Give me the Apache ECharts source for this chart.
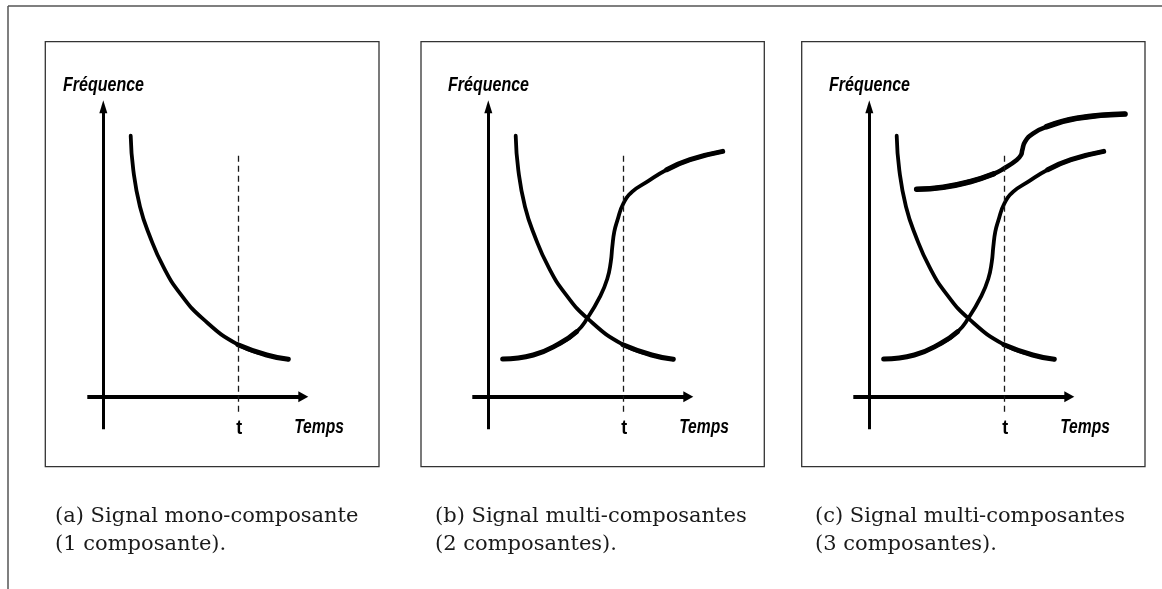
<!DOCTYPE html>
<html>
<head>
<meta charset="utf-8">
<script src="https://cdn.jsdelivr.net/npm/echarts@6/dist/echarts.min.js"></script>
<style>
html,body{margin:0;padding:0;background:#fff;}
#chart{width:1162px;height:589px;}
</style>
</head>
<body>
<div id="chart"></div>
<script>
// ---- data (schematic units: time along x, frequency along y) ----
const captionLine1 = ['(a) Signal mono-composante', '(b) Signal multi-composantes', '(c) Signal multi-composantes'];
const captionLine2 = ['(1 composante).', '(2 composantes).', '(3 composantes).'];
const yAxisLabel = 'Fréquence';
const xAxisLabel = 'Temps';
const instantLabel = 't';
const instantT = 13.47;

// decreasing component (all panels)
const compDecreasing = [[2.74,26.1],[3.0,22.67],[3.67,19.0],[4.67,16.0],[6.0,13.0],[7.67,10.34],[10.0,7.75],[13.47,5.2],[16.34,4.17],[18.5,3.74]];
// rising component (panels b and c)
const compRising = [[1.44,3.77],[4.5,4.17],[7.17,5.34],[8.84,6.5],[9.9,7.84],[11.17,10.0],[11.9,11.8],[12.25,13.5],[12.4,15.0],[12.6,16.5],[12.9,17.6],[13.5,19.3],[14.4,20.5],[15.74,21.4],[17.84,22.7],[20.17,23.7],[23.44,24.53]];
// upper component (panel c)
const compUpper = [[4.74,20.74],[7.4,20.94],[10.07,21.5],[12.4,22.27],[13.5,22.84],[14.74,23.67],[15.17,24.17],[15.3,24.67],[15.57,25.5],[16.4,26.34],[17.74,27.0],[20.74,27.84],[25.57,28.27]];

// axis extents (arrow axes)
const xAxisFrom = -1.6, xAxisTo = 20.0;
const yAxisFrom = -3.26, yAxisTo = 29.0;
const dashedFrom = -1.5, dashedTo = 24.5;

// label anchor points (data units)
const labelT = [instantT + 0.12, -3.13];
const labelTemps = [21.57, -3.07];
const labelFreq = [0.02, 31.17];

const panelComponents = [
  [compDecreasing],
  [compDecreasing, compRising],
  [compDecreasing, compRising, compUpper]
];
// heavier stroke on the flattest stretches: [fromIndex, toIndex, width]
const emphasis = {
  dec: [[7, 9, 5.0]],
  ris: [[0, 3, 5.0], [14, 16, 5.0]],
  upp: [[0, 3, 5.6], [10, 12, 5.6]]
};
const baseWidth = { dec: 3.8, ris: 3.8, upp: 4.6 };
const compKeys = ['dec', 'ris', 'upp'];

// ---- layout ----
const origins = [[103.3, 396.7], [488.3, 396.7], [869.3, 396.7]];
const boxes = [[45.3, 41.7, 333.7, 425], [421, 41.7, 343.3, 425], [801.7, 41.7, 343.3, 425]];
const captionX = [55, 435, 815];

const grids = [], xAxes = [], yAxes = [], series = [], graphics = [];
const hiddenAxis = { show: true, axisLine: { show: false }, axisTick: { show: false }, axisLabel: { show: false }, splitLine: { show: false } };

origins.forEach((o, i) => {
  grids.push({ left: o[0] - 16, top: o[1] - 295, width: 276, height: 327.6 });
  xAxes.push(Object.assign({ type: 'value', gridIndex: i, min: -1.6, max: 26 }, hiddenAxis));
  yAxes.push(Object.assign({ type: 'value', gridIndex: i, min: -3.26, max: 29.5 }, hiddenAxis));

  // arrow axes + dashed instant line
  series.push({
    type: 'line', xAxisIndex: i, yAxisIndex: i, clip: false, silent: true, data: [], symbol: 'none',
    markLine: {
      silent: true, animation: false, label: { show: false },
      symbol: ['none', 'triangle'],
      data: [
        [{ coord: [xAxisFrom, 0], symbol: 'none', lineStyle: { color: '#000', width: 4, type: 'solid' } },
         { coord: [xAxisTo, 0], symbol: 'triangle', symbolSize: [11, 10] }],
        [{ coord: [0, yAxisFrom], symbol: 'none', lineStyle: { color: '#000', width: 3, type: 'solid' } },
         { coord: [0, yAxisTo], symbol: 'triangle', symbolSize: [8, 13] }],
        [{ coord: [instantT, dashedFrom], symbol: 'none', lineStyle: { color: '#1a1a1a', width: 1.3, type: [6, 4] } },
         { coord: [instantT, dashedTo], symbol: 'none' }]
      ]
    }
  });

  // components: base stroke + heavier overlays on the flattest stretches
  panelComponents[i].forEach((comp, k) => {
    const key = compKeys[k];
    series.push({
      type: 'line', xAxisIndex: i, yAxisIndex: i, clip: false, silent: true,
      data: comp, symbol: 'none', smooth: 0.5,
      lineStyle: { color: '#000', width: baseWidth[key], cap: 'round' }, z: 3
    });
    emphasis[key].forEach(e => {
      series.push({
        type: 'line', xAxisIndex: i, yAxisIndex: i, clip: false, silent: true,
        data: comp.slice(e[0], e[1] + 1), symbol: 'none', smooth: 0.5,
        lineStyle: { color: '#000', width: e[2], cap: 'round' }, z: 3
      });
    });
  });

  // box
  const b = boxes[i];
  graphics.push({ type: 'rect', shape: { x: b[0], y: b[1], width: b[2], height: b[3] },
    style: { fill: 'none', stroke: '#333', lineWidth: 1.3 }, z: 0, silent: true });
  // captions
  graphics.push({ type: 'text', x: captionX[i], y: 503,
    style: { text: captionLine1[i] + '\n' + captionLine2[i], fill: '#1a1a1a',
      font: '21px "DejaVu Serif", serif', lineHeight: 28, verticalAlign: 'top' }, silent: true });
});

// outer frame (top and left rules)
graphics.push({ type: 'line', shape: { x1: 8, y1: 6, x2: 1162, y2: 6 }, style: { stroke: '#555', lineWidth: 1.5 }, silent: true });
graphics.push({ type: 'line', shape: { x1: 8, y1: 6, x2: 8, y2: 589 }, style: { stroke: '#555', lineWidth: 1.5 }, silent: true });

const chart = echarts.init(document.getElementById('chart'), null, { renderer: 'canvas' });
chart.setOption({
  animation: false,
  backgroundColor: '#fff',
  grid: grids, xAxis: xAxes, yAxis: yAxes, series: series, graphic: graphics
});

// axis titles placed through the grids' own coordinate systems
const labelFont = 'bold italic 20px "Liberation Sans", Arial, sans-serif';
origins.forEach((o, i) => {
  const pT = chart.convertToPixel({ gridIndex: i }, labelT);
  const pTe = chart.convertToPixel({ gridIndex: i }, labelTemps);
  const pF = chart.convertToPixel({ gridIndex: i }, labelFreq);
  graphics.push({ type: 'text', x: pT[0], y: pT[1], scaleX: 0.85, silent: true,
    style: { text: instantLabel, font: 'bold 21px "Liberation Sans", Arial, sans-serif', fill: '#000', align: 'center', verticalAlign: 'middle' } });
  graphics.push({ type: 'text', x: pTe[0], y: pTe[1], scaleX: 0.78, silent: true,
    style: { text: xAxisLabel, font: labelFont, fill: '#000', align: 'center', verticalAlign: 'middle' } });
  graphics.push({ type: 'text', x: pF[0], y: pF[1], scaleX: 0.8, silent: true,
    style: { text: yAxisLabel, font: labelFont, fill: '#000', align: 'center', verticalAlign: 'middle' } });
});
chart.setOption({ graphic: graphics });
</script>
</body>
</html>
